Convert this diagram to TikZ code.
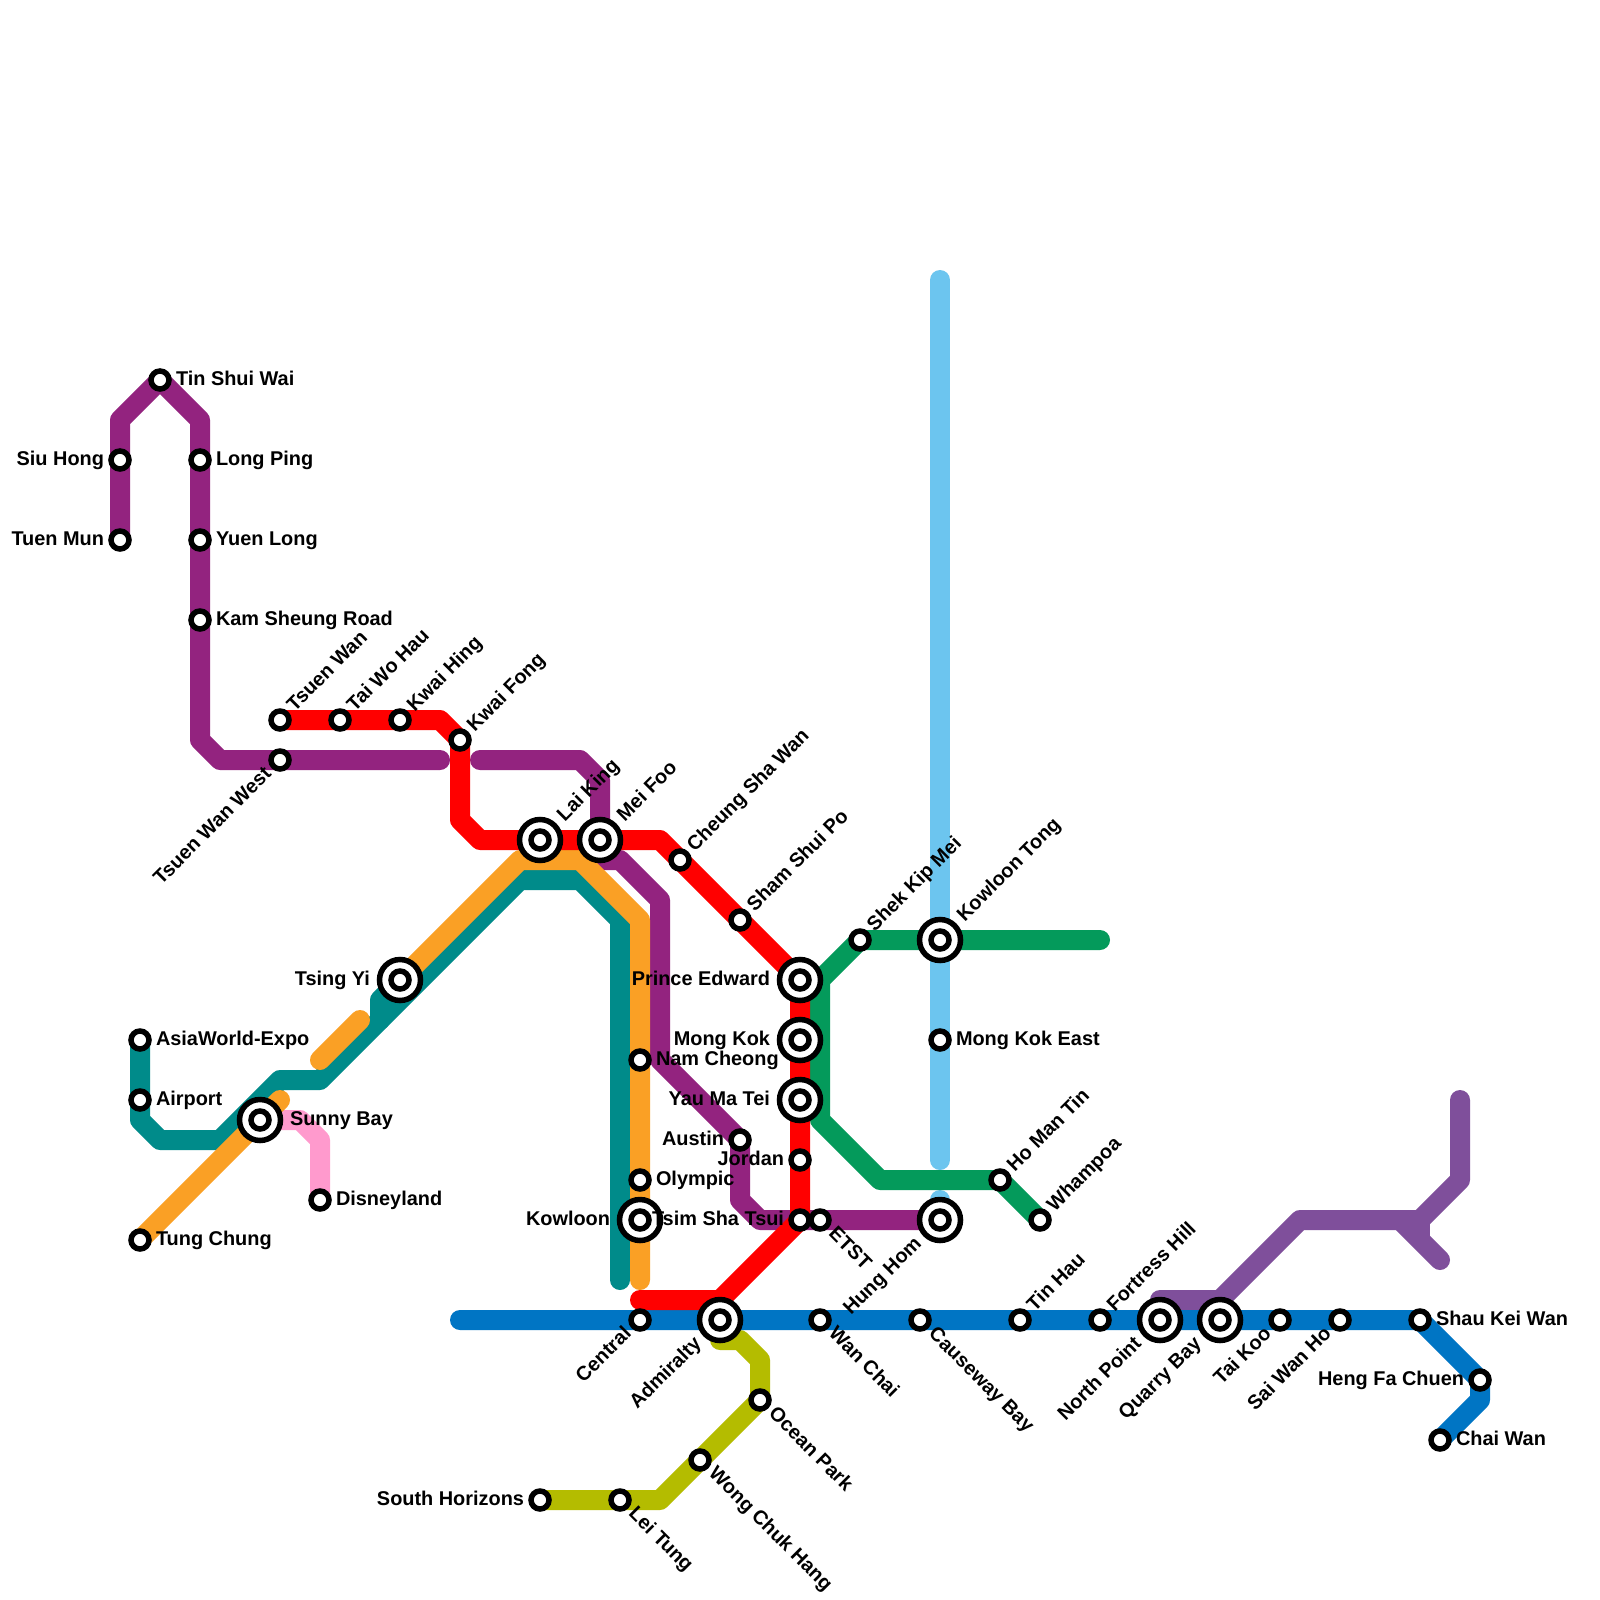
\documentclass[tikz,border=0pt]{standalone}
\usepackage{fontspec}
\setmainfont{Liberation Sans}
\pgfdeclarelayer{bg}
\pgfsetlayers{bg,main}
\definecolor{ctml}{HTML}{93237F}
\definecolor{cteal}{HTML}{008B8A}
\definecolor{corange}{HTML}{FAA025}
\definecolor{cred}{HTML}{FF0000}
\definecolor{cgreen}{HTML}{049A5B}
\definecolor{csky}{HTML}{6CC5EF}
\definecolor{cblue}{HTML}{0075C4}
\definecolor{colive}{HTML}{B4BC00}
\definecolor{cpink}{HTML}{FF9ACD}
\definecolor{ctko}{HTML}{7F4F9B}
\tikzset{
  railway/.style={line width=20pt,line cap=round,line join=round},
  stn/.style={circle,draw=black,fill=white,line width=5.5pt,inner sep=0pt,outer sep=0pt,minimum size=18pt},
  hub/.style={circle,draw=black,fill=white,line width=5.5pt,inner sep=0pt,outer sep=0pt,minimum size=41pt},
  lb/.style={font=\fontsize{19.9}{22}\selectfont\bfseries,text=black,inner sep=0pt,outer sep=0pt},
  lr/.style={anchor=base west,xshift=16pt,yshift=-5pt},
  ll/.style={anchor=base east,xshift=-16pt,yshift=-5pt},
  lur/.style={anchor=base west,xshift=14.85pt,yshift=7.8pt,rotate=45},
  ldl/.style={anchor=base east,xshift=-7.8pt,yshift=-14.85pt,rotate=45},
  ldr/.style={anchor=base west,xshift=7.8pt,yshift=-14.85pt,rotate=-45},
  hr/.style={anchor=base west,xshift=30pt,yshift=-5pt},
  hl/.style={anchor=base east,xshift=-30pt,yshift=-5pt},
  hur/.style={anchor=base west,xshift=24.75pt,yshift=17.7pt,rotate=45},
  hdl/.style={anchor=base east,xshift=-17.7pt,yshift=-24.75pt,rotate=45},
}
\newcommand{\st}[5]{\node[stn] (#1) at (#2,#3) {};\node[lb,#4] (l-#1) at (#2,#3) {#5};}
\newcommand{\ic}[5]{\node[hub] (o-#1) at (#2,#3) {};\node[stn] (#1) at (#2,#3) {};\node[lb,#4] (l-#1) at (#2,#3) {#5};}
\begin{document}
\begin{tikzpicture}[x=1pt,y=-1pt]
\useasboundingbox (0,0) rectangle (1600,1600);
% way points
\foreach \n/\x/\y in {
 a1/120/420,a2/200/420,a3/200/740,a4/220/760,a5/440/760,
 b1/480/760,b2/580/760,b3/600/780,c1/600/860,c2/620/860,c3/660/900,c6/660/1060,c4/740/1200,c5/760/1220,
 r1/440/720,r2/460/820,r3/480/840,r4/660/840,r5/720/1300,r6/640/1300,
 t1/520/880,t2/580/880,t3/620/920,t4/620/1280,t5/320/1080,t6/280/1080,t7/220/1140,t8/160/1140,t9/140/1120,t10/380/1020,t11/380/1000,
 o1/280/1100,o2/320/1060,o3/360/1020,o4/520/860,o5/580/860,o6/640/920,o7/640/1280,
 p1/300/1120,p2/320/1140,
 g1/1100/940,g2/820/980,g3/820/1120,g4/880/1180,
 s1/940/280,s2/940/1160,s3/940/1200,
 i1/460/1320,i2/1480/1400,
 k1/1160/1300,k2/1220/1300,k3/1300/1220,k4/1420/1220,k5/1460/1180,k6/1460/1100,k7/1400/1220,k8/1440/1260,k9/1420/1240,
 v1/660/1500,v2/760/1360,v3/740/1340,v4/720/1340}
 {\coordinate (\n) at (\x,\y);}
% stations
\st{tsw}{160}{380}{lr}{Tin Shui Wai}
\st{siu}{120}{460}{ll}{Siu Hong}
\st{tum}{120}{540}{ll}{Tuen Mun}
\st{lop}{200}{460}{lr}{Long Ping}
\st{yul}{200}{540}{lr}{Yuen Long}
\st{ksr}{200}{620}{lr}{Kam Sheung Road}
\st{tsu}{280}{720}{lur}{Tsuen Wan}
\st{twh}{340}{720}{lur}{Tai Wo Hau}
\st{kwh}{400}{720}{lur}{Kwai Hing}
\st{kwf}{460}{740}{lur}{Kwai Fong}
\st{twe}{280}{760}{ldl}{Tsuen Wan West}
\ic{lak}{540}{840}{hur}{Lai King}
\ic{mef}{600}{840}{hur}{Mei Foo}
\st{csw}{680}{860}{lur}{Cheung Sha Wan}
\st{ssp}{740}{920}{lur}{Sham Shui Po}
\st{skm}{860}{940}{lur}{Shek Kip Mei}
\ic{klt}{940}{940}{hur}{Kowloon Tong}
\ic{pre}{800}{980}{hl}{Prince Edward}
\ic{mok}{800}{1040}{hl}{Mong Kok}
\ic{ymt}{800}{1100}{hl}{Yau Ma Tei}
\st{mke}{940}{1040}{lr}{Mong Kok East}
\st{nac}{640}{1060}{lr}{Nam Cheong}
\st{aus}{740}{1140}{ll}{Austin}
\st{jor}{800}{1160}{ll}{Jordan}
\st{oly}{640}{1180}{lr}{Olympic}
\ic{kow}{640}{1220}{hl}{Kowloon}
\st{tst}{800}{1220}{ll}{Tsim Sha Tsui}
\st{ets}{820}{1220}{ldr}{ETST}
\ic{huh}{940}{1220}{hdl}{Hung Hom}
\st{hmt}{1000}{1180}{lur}{Ho Man Tin}
\st{wha}{1040}{1220}{lur}{Whampoa}
\ic{tsy}{400}{980}{hl}{Tsing Yi}
\st{awe}{140}{1040}{lr}{AsiaWorld-Expo}
\st{air}{140}{1100}{lr}{Airport}
\ic{sub}{260}{1120}{hr}{Sunny Bay}
\st{dis}{320}{1200}{lr}{Disneyland}
\st{tuc}{140}{1240}{lr}{Tung Chung}
\st{cen}{640}{1320}{ldl}{Central}
\ic{adm}{720}{1320}{hdl}{Admiralty}
\st{wac}{820}{1320}{ldr}{Wan Chai}
\st{cab}{920}{1320}{ldr}{Causeway Bay}
\st{tih}{1020}{1320}{lur}{Tin Hau}
\st{foh}{1100}{1320}{lur}{Fortress Hill}
\ic{nop}{1160}{1320}{hdl}{North Point}
\ic{qub}{1220}{1320}{hdl}{Quarry Bay}
\st{tak}{1280}{1320}{ldl}{Tai Koo}
\st{swh}{1340}{1320}{ldl}{Sai Wan Ho}
\st{skw}{1420}{1320}{lr}{Shau Kei Wan}
\st{hfc}{1480}{1380}{ll}{Heng Fa Chuen}
\st{chw}{1440}{1440}{lr}{Chai Wan}
\st{ocp}{760}{1400}{ldr}{Ocean Park}
\st{wch}{700}{1460}{ldr}{Wong Chuk Hang}
\st{let}{620}{1500}{ldr}{Lei Tung}
\st{soh}{540}{1500}{ll}{South Horizons}
% lines
\begin{pgfonlayer}{bg}
\fill[white] (0,0) rectangle (1600,1600);
\draw[railway,csky] (s1.center) -- (klt.center) -- (mke.center) -- (s2.center);
\draw[railway,csky] (s3.center) -- (huh.center);
\draw[railway,ctml] (tum.center) -- (siu.center) -- (a1.center) -- (tsw.center) -- (a2.center) -- (lop.center) -- (yul.center) -- (ksr.center) -- (a3.center) -- (a4.center) -- (twe.center) -- (a5.center);
\draw[railway,ctml] (b1.center) -- (b2.center) -- (b3.center) -- (mef.center);
\draw[railway,ctml] (c1.center) -- (c2.center) -- (c3.center) -- (c6.center) -- (aus.center) -- (c4.center) -- (c5.center) -- (tst.center) -- (ets.center) -- (huh.center);
\draw[railway,ctko] (nop.center) -- (k1.center) -- (k2.center) -- (k3.center) -- (k4.center) -- (k5.center) -- (k6.center);
\draw[railway,ctko] (k7.center) -- (k8.center);
\draw[ctko,line width=20pt,line join=round] (k4.center) -- (k9.center);
\draw[railway,colive] (adm.center) -- (v4.center) -- (v3.center) -- (v2.center) -- (ocp.center) -- (wch.center) -- (v1.center) -- (let.center) -- (soh.center);
\draw[railway,cblue] (i1.center) -- (cen.center) -- (adm.center) -- (wac.center) -- (cab.center) -- (tih.center) -- (foh.center) -- (nop.center) -- (qub.center) -- (tak.center) -- (swh.center) -- (skw.center) -- (hfc.center) -- (i2.center) -- (chw.center);
\draw[railway,cpink] (sub.center) -- (p1.center) -- (p2.center) -- (dis.center);
\draw[railway,cteal] (awe.center) -- (air.center) -- (t9.center) -- (t8.center) -- (t7.center) -- (t6.center) -- (t5.center) -- (t1.center) -- (t2.center) -- (t3.center) -- (t4.center);
\draw[railway,cteal] (t10.center) -- (t11.center) -- (tsy.center);
\draw[railway,corange] (tuc.center) -- (sub.center) -- (o1.center);
\draw[railway,corange] (o2.center) -- (o3.center);
\draw[railway,corange] (tsy.center) -- (o4.center) -- (o5.center) -- (o6.center) -- (nac.center) -- (oly.center) -- (kow.center) -- (o7.center);
\draw[railway,cgreen] (g1.center) -- (klt.center) -- (skm.center) -- (g2.center) -- (g3.center) -- (g4.center) -- (hmt.center) -- (wha.center);
\draw[railway,cred] (tsu.center) -- (twh.center) -- (kwh.center) -- (r1.center) -- (kwf.center) -- (r2.center) -- (r3.center) -- (lak.center) -- (mef.center) -- (r4.center) -- (csw.center) -- (ssp.center) -- (pre.center) -- (mok.center) -- (ymt.center) -- (jor.center) -- (tst.center) -- (r5.center) -- (r6.center);
\end{pgfonlayer}
\end{tikzpicture}
\end{document}
